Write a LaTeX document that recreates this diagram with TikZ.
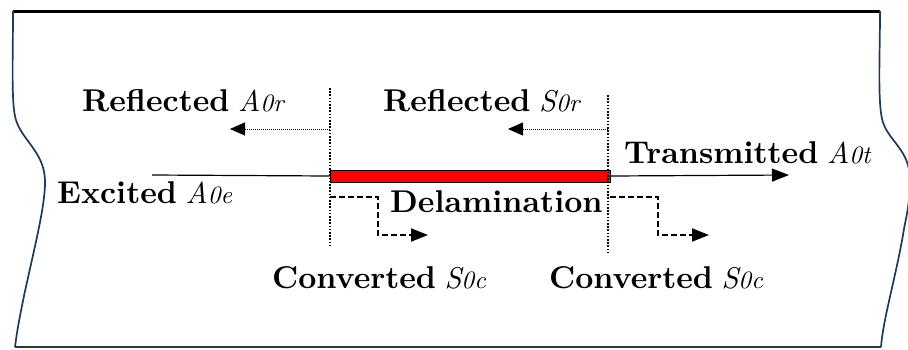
\documentclass[tikz,border=0pt]{standalone}
\usepackage{fontspec}
\setmainfont{lmroman10}[Extension=.otf, UprightFont=*-regular, BoldFont=*-bold, ItalicFont=*-italic, BoldItalicFont=*-bolditalic]
\usetikzlibrary{arrows.meta}
\definecolor{navy}{HTML}{1B3A5E}
\newcommand\wm[2]{\hspace{-3.5pt}{\mdseries\itshape\fontsize{30}{32}\selectfont #1{\fontsize{25}{25}\selectfont #2}}}
\tikzset{
  lbl/.style={anchor=base west, inner sep=0pt, font=\fontsize{31.5}{33}\selectfont\bfseries},
  border/.style={draw=navy, line width=1.7pt},
  wave/.style={line width=1.2pt},
  wavearrow/.style={line width=1.2pt, -{Triangle[length=17pt,width=13pt]}},
  refl/.style={dash pattern=on 1pt off 1pt, line width=0.9pt, -{Triangle[length=15pt,width=13pt]}},
  vdot/.style={dash pattern=on 1.6pt off 1.6pt, line width=2pt},
  conv/.style={dash pattern=on 6pt off 3pt, line width=2pt, -{Triangle[length=17pt,width=13pt]}},
  delam/.style={draw=black, fill=red, line width=1pt, minimum width=280pt, minimum height=12pt, inner sep=0pt},
}
\begin{document}
\begin{tikzpicture}[x=1pt,y=-1pt]
\useasboundingbox (0,0) rectangle (908,349);
% plate outline
\draw[line width=3pt] (13,11) -- (880,11);
\draw[line width=1.3pt, draw=black!80] (15,347) -- (881,347);
\draw[border] (13,11) .. controls (13,60) and (11,105) .. (16,120)
  .. controls (22,140) and (44,152) .. (45,180)
  .. controls (46,215) and (22,290) .. (15,347);
\draw[border] (880,11) .. controls (880,60) and (877,110) .. (884,125)
  .. controls (890,140) and (906,150) .. (909,170)
  .. controls (912,200) and (905,220) .. (903,235)
  .. controls (895,280) and (883,320) .. (881,347);
% delamination bar
\node[delam] (bar) at (470,176) {};
% coordinates
\coordinate (exS) at (152,175);
\coordinate (trE) at (789,175);
\coordinate (vLt) at (330,88);
\coordinate (vLb) at (330,247);
\coordinate (vRt) at (608,95);
\coordinate (vRb) at (608,252);
\coordinate (rAs) at (330,129);
\coordinate (rAe) at (230,129);
\coordinate (rSs) at (608,129);
\coordinate (rSe) at (508,129);
\coordinate (c1s) at (330,197);
\coordinate (c1m) at (378,235);
\coordinate (c1e) at (428,235);
\coordinate (c2s) at (610,197);
\coordinate (c2m) at (658,235);
\coordinate (c2e) at (709,235);
% waves
\draw[wave] (exS) -- (bar.west);
\draw[wavearrow] (bar.east) -- (trE);
\draw[vdot] (vLt) -- (vLb);
\draw[vdot] (vRt) -- (vRb);
\draw[refl] (rAs) -- (rAe);
\draw[refl] (rSs) -- (rSe);
\draw[conv] (c1s) -| (c1m) -- (c1e);
\draw[conv] (c2s) -| (c2m) -- (c2e);
% labels
\node[lbl] (lrA) at (82,111) {Reflected \wm{A}{0r}};
\node[lbl] (lrS) at (383,111) {Reflected \wm{S}{0r}};
\node[lbl] (lex) at (57,203) {Excited \wm{A}{0e}};
\node[lbl] (lde) at (390,212) {Delamination};
\node[lbl] (ltr) at (624,163) {Transmitted \wm{A}{0t}};
\node[lbl] (lc1) at (272,288) {Converted \wm{S}{0c}};
\node[lbl] (lc2) at (549,288) {Converted \wm{S}{0c}};
\end{tikzpicture}
\end{document}
